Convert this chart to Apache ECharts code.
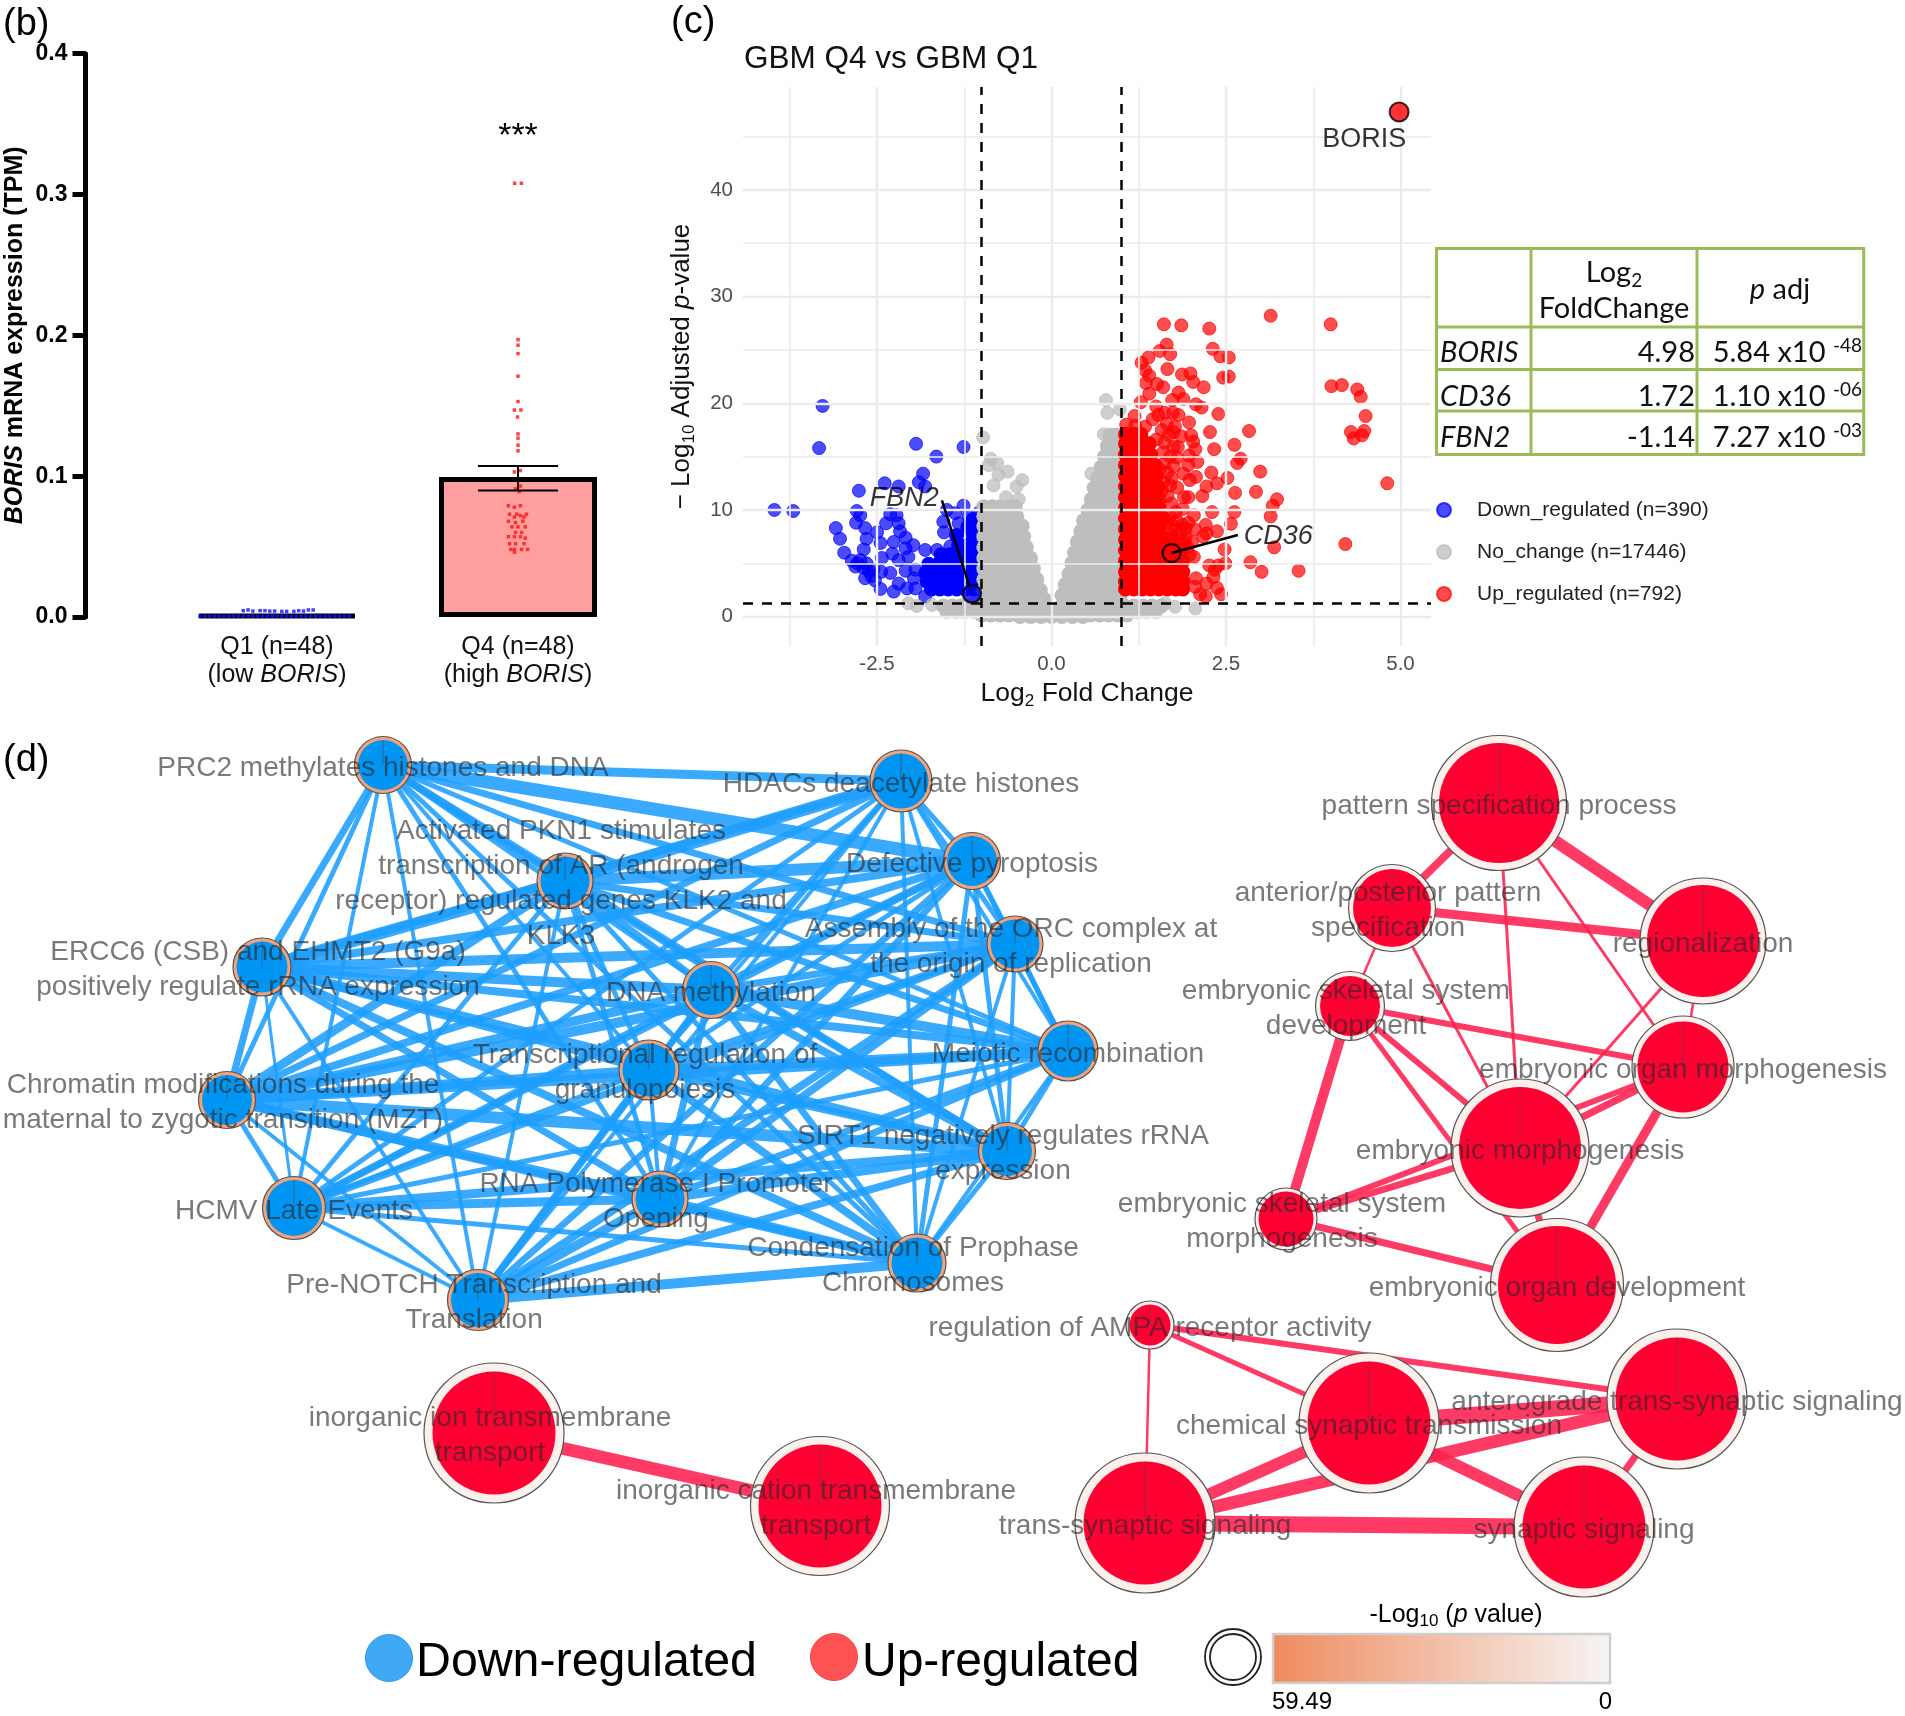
<!DOCTYPE html>
<html><head><meta charset="utf-8">
<style>html,body{margin:0;padding:0;background:#fff}#c{width:1905px;height:1716px}</style>
<script src="https://cdn.jsdelivr.net/npm/echarts@6/dist/echarts.min.js"></script>
</head><body><div id="c"></div>
<script>
// ---------- panel (b)
const barCats=['Q1 (n=48)\n(low BORIS)','Q4 (n=48)\n(high BORIS)'];
const barVals=[0.0015,0.0995];
const errQ4=[1,0.0899,0.1073];
const q1Dots=[[0.68,.0006],[0.70,.0006],[0.72,.0006],[0.74,.0006],[0.76,.0006],[0.78,.0006],[0.80,.0006],[0.82,.0006],[0.84,.0006],[0.86,.0006],[0.88,.0006],[0.90,.0006],[0.92,.0006],[0.94,.0006],[0.96,.0006],[0.98,.0006],[1.0,.0006],[1.02,.0006],[1.04,.0006],[1.06,.0006],[1.08,.0006],[1.10,.0006],[1.12,.0006],[1.14,.0006],[1.16,.0006],[1.18,.0006],[1.20,.0006],[1.22,.0006],[1.24,.0006],[1.26,.0006],[1.28,.0006],[1.30,.0006],[0.86,.0045],[0.88,.005],[0.90,.0042],[0.93,.0045],[0.95,.0045],[0.97,.0042],[0.99,.0042],[1.02,.004],[1.04,.004],[1.07,.004],[1.09,.0045],[1.11,.0042],[1.13,.005],[1.15,.005]].map(p=>[p[0]-1,p[1]]);
const q4Dots=[[.986,.308],[1.014,.308],[1,.197],[1,.193],[1,.187],[1,.171],[1,.153],[.985,.147],[1.012,.147],[.998,.142],[1,.130],[1,.127],[1,.122],[1,.118],[.985,.103],[1.01,.104],[1.01,.093],[.99,.091],[1.005,.089],[.96,.079],[.985,.078],[1.01,.079],[.965,.073],[.995,.073],[1.035,.073],[.985,.071],[1.01,.072],[1.025,.071],[.96,.068],[.99,.067],[1.02,.068],[.975,.064],[1,.064],[1.03,.064],[.99,.060],[1.015,.060],[.96,.057],[.985,.057],[1.01,.057],[1.03,.056],[.965,.052],[.99,.052],[1.025,.052],[.97,.048],[.985,.048],[1.015,.048],[1.04,.048],[.985,.046]];

// ---------- panel (c)
const xMajor=[-2.5,0,2.5,5], xMinor=[-3.75,-1.25,1.25,3.75];
const yMajor=[0,10,20,30,40], yMinor=[5,15,25,35,45];
const downSparse=[[-3.97,10],[-3.70,9.9],[-3.28,19.75],[-3.33,15.8],[-1.94,16.2],[-1.26,15.9],[-1.65,15],[-1.84,13.4],[-1.90,12.6],[-1.81,12.2],[-2.39,12.5],[-2.76,11.8],[-2.19,12.2],[-2.79,9.9],[-2.74,9.5],[-2.80,8.8],[-3.09,8.3],[-3.03,7.3],[-2.97,6.0],[-2.86,5.25],[-2.81,4.7],[-2.67,8.3],[-2.65,7.3],[-2.50,7.9],[-2.45,6.9],[-2.31,9.6],[-2.22,9.5],[-2.37,8.75],[-2.19,8.75],[-2.17,8],[-2.26,7],[-2.09,7.4],[-1.98,6.7],[-2.09,6.4],[-2.05,5.6],[-2.19,5.3],[-2.28,5.9],[-2.43,5.5],[-2.69,6.3],[-2.74,5.3],[-2.65,5],[-2.55,4.4],[-2.67,3.6],[-2.53,3.4],[-2.31,4.1],[-2.44,4.2],[-2.09,4.3],[-1.95,4.4],[-1.97,3.6],[-2.45,2.6],[-2.26,2.35],[-2.19,3.1],[-2.07,2.65],[-1.95,2.65],[-1.81,6.25],[-1.64,6.25],[-1.81,1.9],[-1.50,10],[-1.26,10.4],[-1.38,9.7],[-1.55,8.9],[-1.54,7.9],[-1.03,9.8],[-1.19,9.4],[-1.33,8.75],[-1.45,6.6],[-2.78,5.0],[-2.70,4.6],[-2.62,4.3],[-2.58,3.8]];
const downDense=[[2.6,[-1.72,-1.6,-1.48,-1.36,-1.24,-1.12,-1.03]],[3.3,[-1.78,-1.66,-1.54,-1.42,-1.3,-1.18,-1.06]],[4.1,[-1.8,-1.68,-1.56,-1.44,-1.32,-1.2,-1.08]],[4.9,[-1.76,-1.62,-1.5,-1.38,-1.26,-1.14,-1.03]],[5.8,[-1.58,-1.46,-1.34,-1.22,-1.1]],[6.7,[-1.33,-1.2,-1.08]],[7.6,[-1.36,-1.12,-1.03]],[8.4,[-1.2,-1.08]],[9.1,[-1.12,-1.03]]];
const noSparse=[[0.78,20.3],[0.80,19.1],[0.98,19.4],[-0.98,16.8],[-0.87,14.8],[-0.78,14.4],[-0.90,14.2],[-0.76,13.3],[-0.63,13.6],[-0.42,12.8],[-0.50,12.2],[-0.83,12.3],[-0.47,11.0],[-0.65,11.2],[0.57,13.4],[0.60,12.1],[0.75,17.1],[-2.05,1.25],[-1.93,1.0],[-1.71,1.1],[2.06,0.77],[1.63,1.24],[1.77,0.93]];
const noDense=[[17,[.84,.92,.99]],[16,[.8,.9,.98]],[15,[.76,.86,.97]],[14,[.71,.83,.95]],[13,[.66,.78,.9,.98]],[12,[.62,.74,.86,.97]],[11,[.57,.69,.81,.93]],[10,[.52,.64,.76,.88,.98]],[9,[.46,.58,.7,.82,.94]],[8,[.42,.54,.66,.78,.9,.98]],[7,[.37,.49,.61,.73,.85,.96]],[6,[.33,.45,.57,.69,.81,.93]],[5,[.29,.41,.53,.65,.77,.89,.98]],[4,[.25,.37,.49,.61,.73,.85,.96]],[3,[.2,.32,.44,.56,.68,.8,.92]],[2,[.15,.27,.39,.51,.63,.75,.87,.98]],
[10.3,[-.97,-.85,-.73,-.61,-.52]],[9.4,[-.97,-.85,-.73,-.61,-.5]],[8.5,[-.97,-.85,-.73,-.61,-.5,-.42]],[7.5,[-.97,-.85,-.73,-.61,-.5,-.4]],[6.5,[-.97,-.85,-.73,-.61,-.49,-.36]],[5.5,[-.97,-.85,-.73,-.61,-.49,-.37,-.3]],[4.5,[-.97,-.85,-.73,-.61,-.49,-.37,-.26]],[3.5,[-.97,-.85,-.73,-.61,-.49,-.37,-.25,-.21]],[2.5,[-.97,-.85,-.73,-.61,-.49,-.37,-.25,-.16]],[1.6,[-.97,-.85,-.73,-.61,-.49,-.37,-.25,-.13,-.1]],
[1,[-1.55,-1.42,-1.3,-1.17,-1.04,-.91,-.78,-.65,-.52,-.39,-.26,-.13,.14,.27,.4,.53,.66,.79,.92,1.05,1.18,1.31,1.44,1.57]],[0.5,[-1.5,-1.37,-1.24,-1.11,-.98,-.85,-.72,-.59,-.46,-.33,-.2,-.07,.06,.19,.32,.45,.58,.71,.84,.97,1.1,1.23,1.36,1.49]],[0.15,[-1.0,-.87,-.74,-.61,-.48,-.35,-.22,-.09,.04,.17,.3,.43,.56,.69,.82,.95,1.08]],[0.02,[-.45,-.3,-.15,0,.15,.3,.45]]];
const upSparse=[[3.14,28.2],[4.0,27.4],[1.61,27.4],[1.86,27.3],[2.26,27.0],[1.65,25.5],[1.55,24.9],[1.70,24.6],[2.31,25.1],[2.42,24.4],[2.54,24.3],[1.39,24.3],[1.29,23.8],[1.34,23.1],[1.40,22.6],[1.66,23.2],[1.87,22.7],[1.99,22.8],[2.03,22.0],[2.18,21.5],[2.46,22.4],[2.54,22.5],[4.01,21.6],[4.16,21.7],[4.38,21.3],[4.43,20.6],[4.50,18.8],[4.29,17.3],[4.33,16.7],[4.45,17.0],[4.48,17.4],[4.81,12.5],[2.83,17.4],[2.62,16.1],[2.33,15.7],[2.71,14.8],[2.66,14.4],[2.99,13.6],[2.52,13.0],[2.29,13.5],[2.37,12.5],[2.22,12.2],[2.16,11.3],[2.63,11.6],[2.93,11.7],[3.23,11.0],[3.17,10.4],[3.14,9.4],[2.62,9.8],[2.30,9.8],[2.57,8.7],[2.37,8.0],[4.21,6.8],[3.19,6.5],[2.48,6.3],[2.85,5.1],[3.01,4.2],[3.54,4.3],[2.49,5.0],[2.26,4.8],[2.39,4.8],[2.34,4.4],[2.32,3.7],[2.22,3.1],[2.43,2.1],[2.37,2.7],[2.21,1.9],[2.13,2.1],[2.07,3.6],[2.06,2.8],[2.39,19.0],[2.27,17.3],[2.15,19.6],[2.07,19.9],[1.89,20.4],[1.82,21.0],[1.73,20.3],[1.60,21.5],[1.51,21.8],[1.35,21.9],[1.40,20.9],[1.28,20.1],[1.50,19.7],[1.19,18.8],[1.97,18.2],[2.0,17.0],[2.03,16.4],[2.06,15.7],[1.97,15.1],[2.09,14.5],[1.96,14.2],[1.89,13.4],[2.07,13.1],[1.98,12.8],[1.80,12.1],[1.96,11.2],[1.90,11.2],[1.88,10.1],[2.04,9.5],[1.96,8.8],[2.21,8.6],[2.22,7.8],[2.05,8.2],[2.17,7.5],[1.72,8.2],[2.01,7.0],[2.04,5.6],[1.86,16.9],[1.81,15.9],[1.75,17.3],
[1.62,19.1],[1.74,19.1],[1.82,18.9],[1.53,18.9],[1.45,18.5],[1.65,18.1],[1.77,17.8],[1.34,17.8],[1.2,17.9],[1.07,18],[1.58,17.5],[1.68,17],[1.5,16.6],[1.62,16.3],[1.75,15.9],[1.6,15.4],[1.7,15],[1.8,14.9],[1.62,14.4],[1.75,14.1],[1.66,13.5],[1.55,13.8],[1.72,13],[1.6,12.6],[1.7,12.3],[1.58,11.8],[1.66,11.3],[1.55,11],[1.72,10.6],[1.78,9.8],[1.7,9.4],[1.8,9],[1.88,8.6],[1.78,8.4],[1.65,8.8],[1.85,7.8],[1.92,7.4],[1.82,7.2],[1.95,6.5],[1.9,6.9],[1.98,5.8],[1.92,8.2],[1.72,7.6]];
const upDense=[[2.6,[1.06,1.18,1.3,1.42,1.54,1.66,1.78,1.88]],[3.3,[1.06,1.18,1.3,1.42,1.54,1.66,1.78,1.88]],[4.2,[1.06,1.18,1.3,1.42,1.54,1.66,1.78,1.88]],[5.2,[1.06,1.18,1.3,1.42,1.54,1.66,1.78,1.88]],[6.2,[1.06,1.18,1.3,1.42,1.54,1.66,1.78,1.86]],[7.2,[1.06,1.18,1.3,1.42,1.54,1.66,1.72]],[8.2,[1.06,1.18,1.3,1.42,1.54]],[9.2,[1.06,1.18,1.3,1.42,1.54,1.6]],[10.2,[1.06,1.18,1.3,1.42,1.54]],[11.2,[1.06,1.18,1.3,1.42,1.5]],[12.2,[1.06,1.18,1.3,1.42,1.52]],[13.2,[1.06,1.18,1.3,1.42,1.5]],[14.2,[1.06,1.18,1.3,1.42,1.48]],[15.2,[1.06,1.18,1.3,1.42]],[16.2,[1.06,1.18,1.3,1.4]],[17.1,[1.06,1.18,1.28]]];
const hits=[['BORIS',4.98,47.3],['FBN2',-1.14,2.14],['CD36',1.72,5.96]];
const hitText=[['BORIS',4.48,44.7],['FBN2',-2.11,11.1],['CD36',3.25,7.55]];
const fbnLead=[[-1.57,10.9],[-1.14,2.14]], cdLead=[[1.72,5.96],[2.67,7.65]];
const legendNames=['Down_regulated (n=390)','No_change (n=17446)','Up_regulated (n=792)'];
const tableRows=[['BORIS','4.98','5.84 x10','-48'],['CD36','1.72','1.10 x10','-06'],['FBN2','-1.14','7.27 x10','-03']];

// ---------- panel (d)
const blueNames=['PRC2 methylates histones and DNA','HDACs deacetylate histones','Defective pyroptosis','Activated PKN1 stimulates\ntranscription of AR (androgen\nreceptor) regulated genes KLK2 and\nKLK3','Assembly of the ORC complex at\nthe origin of replication','ERCC6 (CSB) and EHMT2 (G9a)\npositively regulate rRNA expression','DNA methylation','Meiotic recombination','Transcriptional regulation of\ngranulopoiesis','Chromatin modifications during the\nmaternal to zygotic transition (MZT)','SIRT1 negatively regulates rRNA\nexpression','RNA Polymerase I Promoter\nOpening','HCMV Late Events','Condensation of Prophase\nChromosomes','Pre-NOTCH Transcription and\nTranslation'];
const blueX=[383,901,972,565,1015,262,711,1068,649,227,1007,660,294,917,478];
const blueY=[765,781,861,881,944,967,990,1051,1070,1100,1151,1199,1208,1263,1300];
const blueD=[57,62,57,56,56,58,57,60,60,57,57,56,63,58,61];
const redNames=['pattern specification process','anterior/posterior pattern\nspecification','regionalization','embryonic skeletal system\ndevelopment','embryonic organ morphogenesis','embryonic morphogenesis','embryonic skeletal system\nmorphogenesis','embryonic organ development','regulation of AMPA receptor activity','inorganic ion transmembrane\ntransport','inorganic cation transmembrane\ntransport','trans-synaptic signaling','chemical synaptic transmission','anterograde trans-synaptic signaling','synaptic signaling'];
const redX=[1499,1392,1703,1350,1683,1520,1286,1557,1150,494,820,1145,1369,1677,1584];
const redY=[803,908,941,1006,1067,1148,1219,1285,1325,1433,1506,1523,1423,1399,1527];
const redD=[135,87,126,69,102,138,62,133,48,140,139,140,140,140,140];
const redInner=[120,78,112,60,91,122,55,118,41,123,123,123,123,123,123];
const blueEdges=[[0,1,9],[0,2,13],[0,3,7],[0,4,7],[0,5,7],[0,6,5],[0,7,5],[0,8,4],[0,9,5],[0,10,7],[0,11,5],[0,12,4],[0,13,5],[0,14,4],[1,2,5],[1,3,12],[1,4,5],[1,5,8],[1,6,5],[1,7,4],[1,8,4],[1,9,7],[1,10,4],[1,11,4],[1,12,5],[1,13,4],[1,14,4],[2,3,12],[2,4,5],[2,5,8],[2,6,7],[2,7,5],[2,8,5],[2,9,8],[2,10,5],[2,11,7],[2,12,7],[2,13,5],[2,14,7],[3,4,7],[3,5,12],[3,6,7],[3,7,7],[3,8,5],[3,9,9],[3,10,7],[3,11,5],[3,12,5],[3,13,5],[3,14,4],[4,5,10],[4,6,7],[4,7,5],[4,8,7],[4,9,10],[4,10,4],[4,11,8],[4,12,7],[4,13,4],[4,14,8],[5,6,10],[5,7,8],[5,8,8],[5,9,7],[5,10,10],[5,11,7],[5,12,3],[5,13,8],[5,14,4],[6,7,10],[6,8,4],[6,9,9],[6,10,8],[6,11,7],[6,12,7],[6,13,7],[6,14,7],[7,8,10],[7,9,10],[7,10,5],[7,11,7],[7,12,5],[7,13,4],[7,14,7],[8,9,10],[8,10,7],[8,11,4],[8,12,5],[8,13,8],[8,14,7],[9,10,12],[9,11,10],[9,12,5],[9,13,8],[9,14,4],[10,11,9],[10,12,9],[10,13,5],[10,14,8],[11,12,9],[11,13,9],[11,14,9],[12,13,5],[12,14,4],[13,14,10]];
const redEdges=[[0,1,8],[0,2,12],[0,5,3],[0,4,3],[1,2,9],[1,3,2.5],[1,5,3],[2,4,2.5],[2,5,3],[3,4,6],[3,5,6],[3,7,5],[3,6,10],[6,5,7],[6,4,6],[6,7,7],[4,5,7],[4,7,9],[5,7,7],[8,13,6],[8,12,5],[8,11,2.5],[12,13,16],[12,14,12],[12,11,12],[13,11,13],[11,14,16],[13,14,7],[9,10,13]];

const LIB='"Liberation Sans",Arial,sans-serif';
const expand=rows=>rows.flatMap(r=>r[1].map(x=>[x,r[0]]));
const ptStyle=c=>({color:c,opacity:0.7,borderColor:c,borderWidth:1});
const blueRing='#F4A27A', redRing='#FBF1EC', blueFill='#0095F2', redFill='#FF0033';
const labelColor='rgba(40,40,40,0.78)';

const hiddenAxis={show:false,type:'value',axisLine:{show:false},splitLine:{show:false}};
const vMark=(arr,w)=>arr.map(v=>({xAxis:v,lineStyle:{color:'#ebebeb',width:w,type:'solid'}}));
const hMark=(arr,w)=>arr.map(v=>({yAxis:v,lineStyle:{color:'#ebebeb',width:w,type:'solid'}}));

const graphSeries=(names,xs,ys,ds,ring,edges,edgeColor,name)=>({
  type:'graph',name,coordinateSystem:'cartesian2d',xAxisIndex:3,yAxisIndex:2,z:3,silent:true,roam:false,
  data:names.map((n,i)=>({name:n,value:[xs[i],ys[i]],symbolSize:ds[i]})),
  links:edges.map(e=>({source:e[0],target:e[1],lineStyle:{width:e[2]}})),
  itemStyle:{color:ring,borderColor:'#555',borderWidth:1.2,opacity:1},
  lineStyle:{color:edgeColor,opacity:0.88,curveness:0},label:{show:false},edgeLabel:{show:false}
});
const innerSeries=(xs,ys,ds,fill)=>({type:'scatter',xAxisIndex:3,yAxisIndex:2,z:4,silent:true,
  data:xs.map((x,i)=>({value:[x,ys[i]],symbolSize:ds[i]})),itemStyle:{color:fill,opacity:1}});
const spokeSeries=(xs,ys,ds)=>({type:'custom',xAxisIndex:3,yAxisIndex:2,z:5,silent:true,
  data:xs.map((x,i)=>[x,ys[i],ds[i]]),
  renderItem:(p,api)=>{const c=api.coord([api.value(0),api.value(1)]);
    return {type:'line',shape:{x1:c[0],y1:c[1]-api.value(2)/2,x2:c[0],y2:c[1]},style:{stroke:'rgba(70,70,70,0.55)',lineWidth:1}};}});
const labelSeries=(names,xs,ys)=>({type:'scatter',xAxisIndex:3,yAxisIndex:2,z:6,silent:true,symbolSize:1,
  itemStyle:{color:'rgba(0,0,0,0)'},labelLayout:{hideOverlap:false},
  data:names.map((n,i)=>({name:n,value:[xs[i]-(n.includes('\n')?4:0),ys[i]+3]})),
  label:{show:true,position:'inside',formatter:p=>p.name,fontFamily:LIB,fontSize:28,lineHeight:35,color:labelColor,align:'center',verticalAlign:'middle'}});

const gfx=[];
const txt=(t,x,y,o)=>gfx.push({type:'text',x,y,z:30,silent:true,style:Object.assign({text:t,fontFamily:LIB,fontSize:24,fill:'#000',textAlign:'left',textVerticalAlign:'middle'},o||{})});
const LATO='Lato,"Liberation Sans",sans-serif';
txt('(b)',3,25,{fontSize:38});txt('(c)',671,23,{fontSize:38});txt('(d)',3,761,{fontSize:38});
const tX=[1436.5,1531,1697,1863.7], tY=[248.4,327,369.6,411,454.5];
gfx.push({type:'rect',z:29,silent:true,shape:{x:tX[0],y:tY[0],width:tX[3]-tX[0],height:tY[4]-tY[0]},style:{fill:'#fff',stroke:'#9BBB59',lineWidth:3}});
tX.slice(1,3).forEach(x=>gfx.push({type:'line',z:29,silent:true,shape:{x1:x,y1:tY[0],x2:x,y2:tY[4]},style:{stroke:'#9BBB59',lineWidth:3}}));
tY.slice(1,4).forEach(y=>gfx.push({type:'line',z:29,silent:true,shape:{x1:tX[0],y1:y,x2:tX[3],y2:y},style:{stroke:'#9BBB59',lineWidth:3}}));
const tb={fontFamily:LATO,fontSize:29,fill:'#111'};
txt('Log{s|2}',1614,273,Object.assign({},tb,{textAlign:'center',rich:{s:{fontSize:19,fontFamily:LATO,fill:'#111',verticalAlign:'bottom',lineHeight:34}}}));
txt('FoldChange',1614,309,Object.assign({},tb,{textAlign:'center'}));
txt('{i|p} adj',1780,290,Object.assign({},tb,{textAlign:'center',rich:{i:{fontStyle:'italic',fontSize:29,fontFamily:LATO,fill:'#111'}}}));
[353,397,438].forEach((y,i)=>{const r=tableRows[i];
  txt(r[0],1440,y,Object.assign({},tb,{fontStyle:'italic'}));
  txt(r[1],1695,y,Object.assign({},tb,{textAlign:'right'}));
  txt(r[2]+' {s|'+r[3]+'}',1862,y,Object.assign({},tb,{textAlign:'right',rich:{s:{fontSize:19,fontFamily:LATO,fill:'#111',verticalAlign:'top',lineHeight:34}}}));
});
gfx.push({type:'circle',z:29,silent:true,shape:{cx:389,cy:1658,r:23.5},style:{fill:'#3FA9F5',stroke:'#2E9CEB',lineWidth:1}});
gfx.push({type:'circle',z:29,silent:true,shape:{cx:834,cy:1657,r:23.5},style:{fill:'#FF5252',stroke:'#F24444',lineWidth:1}});
txt('Down-regulated',416,1663,{fontSize:48.3});
txt('Up-regulated',862,1663,{fontSize:48});
gfx.push({type:'circle',z:29,silent:true,shape:{cx:1233,cy:1657,r:28},style:{fill:'#fff',stroke:'#222',lineWidth:1.8}});
gfx.push({type:'circle',z:29,silent:true,shape:{cx:1233,cy:1657,r:23},style:{fill:'#fff',stroke:'#222',lineWidth:1.8}});
gfx.push({type:'rect',z:29,silent:true,shape:{x:1273,y:1634,width:337,height:49},style:{stroke:'#cfcfcf',lineWidth:2.5,fill:{type:'linear',x:0,y:0,x2:1,y2:0,colorStops:[{offset:0,color:'#EF8B5E'},{offset:1,color:'#F6F5F4'}]}}});
txt('-Log{s|10} ({i|p} value)',1456,1615,{textAlign:'center',fontSize:25,rich:{s:{fontSize:17,fontFamily:LIB,fill:'#000',verticalAlign:'bottom',lineHeight:30},i:{fontStyle:'italic',fontSize:25,fontFamily:LIB,fill:'#000'}}});
txt('59.49',1272,1702,{fontSize:24});
txt('0',1612,1702,{fontSize:24,textAlign:'right'});
txt('***',518,137,{fontSize:34,textAlign:'center'});

const hitStyles=[{color:'#FF0000',borderColor:'#000',borderWidth:2},{color:'#0000FF',borderColor:'#000',borderWidth:2.5},{color:'rgba(255,0,0,0)',borderColor:'#000',borderWidth:2.5}];

const option={
  animation:false,backgroundColor:'#fff',textStyle:{fontFamily:LIB},
  title:{text:'GBM Q4 vs GBM Q1',left:739,top:38,textStyle:{fontFamily:LIB,fontSize:31.5,fontWeight:'normal',color:'#111'}},
  legend:{data:legendNames,orient:'vertical',left:1431,top:494,itemWidth:56,itemHeight:14,itemGap:20,icon:'circle',selectedMode:false,textStyle:{fontFamily:LIB,fontSize:21,color:'#222',lineHeight:22}},
  grid:[{left:156.5,top:53.7,width:482,height:563.3},{left:743,top:87,width:688,height:559},{left:0,top:0,width:1905,height:1716}],
  xAxis:[
    {type:'category',gridIndex:0,data:barCats,axisLine:{show:false},axisTick:{show:false},
      axisLabel:{margin:16,fontFamily:LIB,fontSize:25,lineHeight:28,color:'#111',
        formatter:v=>v.replace('BORIS','{i|BORIS}'),rich:{i:{fontStyle:'italic',fontFamily:LIB,fontSize:25,lineHeight:28,color:'#111'}}}},
    Object.assign({},hiddenAxis,{gridIndex:0,min:-0.5,max:1.5}),
    {type:'value',gridIndex:1,min:-4.42,max:5.437,splitLine:{show:false},axisLine:{show:false},axisTick:{show:false},
      name:'Log{s|2} Fold Change',nameLocation:'middle',nameGap:32,
      nameTextStyle:{fontFamily:LIB,fontSize:26.5,color:'#111',rich:{s:{fontSize:17,fontFamily:LIB,color:'#111',verticalAlign:'bottom',lineHeight:32}}},
      axisLabel:{customValues:xMajor,margin:8,fontFamily:LIB,fontSize:20.5,color:'#4d4d4d',formatter:v=>v.toFixed(1)}},
    Object.assign({},hiddenAxis,{gridIndex:2,min:0,max:1905})
  ],
  yAxis:[
    {type:'value',gridIndex:0,min:0,max:0.4,interval:0.1,offset:71,splitLine:{show:false},
      axisLine:{show:true,onZero:false,lineStyle:{color:'#000',width:5}},axisTick:{show:true,length:13,lineStyle:{color:'#000',width:5}},
      axisLabel:{margin:18,fontFamily:LIB,fontSize:23,fontWeight:'bold',color:'#000',formatter:v=>v.toFixed(1)},
      name:'{i|BORIS} mRNA expression (TPM)',nameLocation:'middle',nameGap:58,nameRotate:90,
      nameTextStyle:{fontFamily:LIB,fontSize:25,fontWeight:'bold',color:'#000',rich:{i:{fontStyle:'italic',fontWeight:'bold',fontFamily:LIB,fontSize:25,color:'#000'}}}},
    {type:'value',gridIndex:1,min:-2.75,max:49.64,splitLine:{show:false},axisLine:{show:false},axisTick:{show:false},
      axisLabel:{customValues:yMajor,margin:10,fontFamily:LIB,fontSize:20.5,color:'#4d4d4d'},
      name:'− Log{s|10} Adjusted {i|p}-value',nameLocation:'middle',nameGap:45,nameRotate:90,
      nameTextStyle:{fontFamily:LIB,fontSize:26,color:'#111',rich:{s:{fontSize:17,fontFamily:LIB,color:'#111',verticalAlign:'bottom',lineHeight:32},i:{fontStyle:'italic',fontSize:26,fontFamily:LIB,color:'#111'}}}},
    Object.assign({},hiddenAxis,{gridIndex:2,min:0,max:1716,inverse:true})
  ],
  graphic:{elements:gfx},
  series:[
    {type:'bar',xAxisIndex:0,yAxisIndex:0,barWidth:158,silent:true,z:2,
      data:[{value:barVals[0],itemStyle:{color:'#000',borderColor:'#000',borderWidth:5}},{value:barVals[1],itemStyle:{color:'#FF9F9F',borderColor:'#000',borderWidth:5}}]},
    {type:'scatter',xAxisIndex:1,yAxisIndex:0,symbol:'rect',symbolSize:3.5,z:3,silent:true,data:q1Dots,itemStyle:{color:'#1414FF'}},
    {type:'scatter',xAxisIndex:1,yAxisIndex:0,symbol:'rect',symbolSize:3.5,z:3,silent:true,data:q4Dots,itemStyle:{color:'#FF1414'}},
    {type:'custom',xAxisIndex:1,yAxisIndex:0,z:4,silent:true,data:[errQ4],
      renderItem:(p,api)=>{const l=api.coord([api.value(0),api.value(1)]),h=api.coord([api.value(0),api.value(2)]);
        const s={stroke:'#000',lineWidth:2};
        return {type:'group',children:[
          {type:'line',shape:{x1:l[0],y1:l[1],x2:h[0],y2:h[1]},style:s},
          {type:'line',shape:{x1:l[0]-40,y1:l[1],x2:l[0]+40,y2:l[1]},style:s},
          {type:'line',shape:{x1:h[0]-40,y1:h[1],x2:h[0]+40,y2:h[1]},style:s}]};}},
    {type:'scatter',xAxisIndex:2,yAxisIndex:1,z:1,silent:true,data:[],
      markLine:{silent:true,symbol:'none',animation:false,label:{show:false},
        data:[].concat(vMark(xMajor,2.4),vMark(xMinor,1.6),hMark(yMajor,2.4),hMark(yMinor,1.6))}},
    {type:'scatter',xAxisIndex:2,yAxisIndex:1,z:2,symbolSize:15,silent:true,data:expand(downDense),itemStyle:{color:'#0000FF',opacity:1}},
    {name:legendNames[0],type:'scatter',xAxisIndex:2,yAxisIndex:1,z:2,symbolSize:13,silent:true,data:downSparse,itemStyle:ptStyle('#0000FF')},
    {type:'scatter',xAxisIndex:2,yAxisIndex:1,z:2,symbolSize:15,silent:true,data:expand(noDense),itemStyle:{color:'#BEBEBE',opacity:1}},
    {name:legendNames[1],type:'scatter',xAxisIndex:2,yAxisIndex:1,z:2,symbolSize:13,silent:true,data:noSparse,itemStyle:{color:'#BEBEBE',opacity:0.75,borderColor:'#BEBEBE',borderWidth:1}},
    {type:'scatter',xAxisIndex:2,yAxisIndex:1,z:2,symbolSize:15,silent:true,data:expand(upDense),itemStyle:{color:'#FF0000',opacity:1}},
    {name:legendNames[2],type:'scatter',xAxisIndex:2,yAxisIndex:1,z:2,symbolSize:13,silent:true,data:upSparse,itemStyle:ptStyle('#FF0000')},
    {type:'scatter',xAxisIndex:2,yAxisIndex:1,z:7,silent:true,data:[],
      markLine:{silent:true,symbol:'none',animation:false,label:{show:false},
        lineStyle:{color:'#000',width:2.5,type:[10,9]},data:[{xAxis:-1},{xAxis:1},{yAxis:1.3}]}},
    {type:'line',xAxisIndex:2,yAxisIndex:1,z:8,silent:true,showSymbol:false,symbol:'none',data:fbnLead,lineStyle:{color:'#000',width:2.5}},
    {type:'line',xAxisIndex:2,yAxisIndex:1,z:8,silent:true,showSymbol:false,symbol:'none',data:cdLead,lineStyle:{color:'#000',width:2.5}},
    {type:'scatter',xAxisIndex:2,yAxisIndex:1,z:9,silent:true,
      data:hits.map((h,i)=>({name:h[0],value:[h[1],h[2]],symbolSize:i===0?19:18,itemStyle:hitStyles[i]}))},
    {type:'scatter',xAxisIndex:2,yAxisIndex:1,z:10,silent:true,symbolSize:1,itemStyle:{color:'rgba(0,0,0,0)'},labelLayout:{hideOverlap:false},
      data:hitText.map((h,i)=>({name:h[0],value:[h[1],h[2]],label:{show:true,position:'inside',formatter:'{b}',color:'#000',fontFamily:LIB,fontSize:27,fontStyle:i===0?'normal':'italic',align:'center',verticalAlign:'middle'}}))},
    graphSeries(blueNames,blueX,blueY,blueD,blueRing,blueEdges,'#1E9EFF','blueNet'),
    graphSeries(redNames,redX,redY,redD,redRing,redEdges,'#FF2050','redNet'),
    innerSeries(blueX,blueY,blueD.map(d=>d-7),blueFill),
    innerSeries(redX,redY,redInner,redFill),
    spokeSeries(blueX,blueY,blueD.map(d=>d-7)),
    spokeSeries(redX,redY,redInner),
    labelSeries(blueNames,blueX,blueY),
    labelSeries(redNames,redX,redY)
  ]
};
const chart=echarts.init(document.getElementById('c'),null,{renderer:'canvas',width:1905,height:1716});
chart.setOption(option);
</script></body></html>
